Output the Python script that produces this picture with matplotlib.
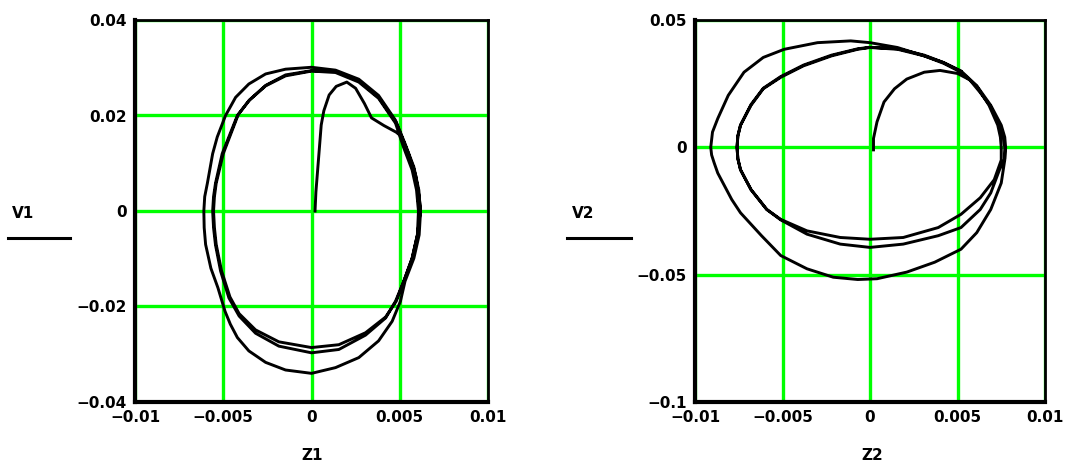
import matplotlib
matplotlib.use("Agg")
import matplotlib.pyplot as plt
from matplotlib.lines import Line2D

# ---- phase portrait 1: displacement Z1 vs velocity V1 ----
z1 = [0.0002, 0.00025, 0.0004, 0.00055, 0.0007, 0.0010, 0.0014, 0.0020, 0.0025, 0.0030,
      0.0034, 0.0041, 0.0048, 0.0051,
      0.0055, 0.0059, 0.0061, 0.00618, 0.0061, 0.0058, 0.0053, 0.00504, 0.00457, 0.0038,
      0.00268, 0.00136, 0.0, -0.00147, -0.0026, -0.00355, -0.0042, -0.0046, -0.0049,
      -0.0053, -0.0057, -0.0060, -0.00608, -0.0061, -0.00605, -0.0059, -0.0056, -0.00534,
      -0.00487, -0.0043, -0.00355, -0.0026, -0.00147, 0.0, 0.00136, 0.00268, 0.0038,
      0.00476, 0.0053, 0.0058, 0.00608, 0.00617,
      0.0060, 0.0057, 0.00523, 0.00476, 0.0042, 0.00306, 0.00155, 0.0, -0.00185, -0.00317,
      -0.0041, -0.00468, -0.00515, -0.00544, -0.00555, -0.0056, -0.00555, -0.00544,
      -0.00506, -0.0042, -0.00355, -0.0026, -0.00147, 0.0, 0.00136, 0.00268, 0.0038,
      0.00476, 0.0052, 0.0057, 0.00595, 0.00606,
      0.0060, 0.0057, 0.00523, 0.0048, 0.0042, 0.00306, 0.00155, 0.0, -0.00185, -0.00317,
      -0.0041, -0.00462, -0.0051, -0.0054, -0.0055, -0.00555, -0.0055, -0.0054, -0.0050,
      -0.00415, -0.0035, -0.0026, -0.00147, 0.0, 0.0014, 0.0027, 0.0038, 0.0048, 0.0053,
      0.0058, 0.0060, 0.0061]
v1 = [0.000, 0.004, 0.011, 0.018, 0.021, 0.0243, 0.0261, 0.0270, 0.0257, 0.0225,
      0.0195, 0.0179, 0.0165, 0.0156,
      0.0120, 0.0075, 0.0030, 0.0, -0.0050, -0.0099, -0.0147, -0.0189, -0.0231, -0.0272,
      -0.0307, -0.0328, -0.0340, -0.0333, -0.0317, -0.0293, -0.0265, -0.0237, -0.0210,
      -0.0161, -0.0120, -0.0070, -0.0035, 0.0, 0.0030, 0.0058, 0.0120, 0.0155,
      0.0200, 0.0238, 0.0266, 0.0287, 0.0297, 0.0301, 0.0295, 0.0276, 0.0242,
      0.0190, 0.0141, 0.0092, 0.0044, 0.0,
      -0.0050, -0.0099, -0.0147, -0.0189, -0.0224, -0.0260, -0.0290, -0.0297, -0.0283, -0.0256,
      -0.0220, -0.0182, -0.0126, -0.0071, -0.0035, 0.0, 0.0030, 0.0058,
      0.0120, 0.0200, 0.0231, 0.0262, 0.0283, 0.0293, 0.0290, 0.0270, 0.0236,
      0.0184, 0.0135, 0.0086, 0.0044, 0.0,
      -0.0050, -0.0099, -0.0147, -0.0189, -0.0222, -0.0255, -0.0280, -0.0286, -0.0274, -0.0249,
      -0.0215, -0.0180, -0.0125, -0.0070, -0.0035, 0.0, 0.0030, 0.0058, 0.0120,
      0.0202, 0.0233, 0.0263, 0.0285, 0.0294, 0.0292, 0.0272, 0.0238, 0.0185, 0.0138,
      0.0088, 0.0044, 0.0]

# ---- phase portrait 2: displacement Z2 vs velocity V2 ----
z2 = [0.0002, 0.0002, 0.0004, 0.0008, 0.0014, 0.0021, 0.0031, 0.0040, 0.0050, 0.0057,
      0.0063, 0.0069, 0.0074, 0.0076, 0.0077, 0.0077, 0.0076, 0.0075, 0.0069, 0.0061,
      0.0052, 0.0037, 0.0021, 0.0004, -0.0007, -0.0021, -0.0036, -0.0051, -0.0062, -0.0074,
      -0.0079, -0.0083, -0.0087, -0.0089, -0.00905, -0.0091, -0.0090, -0.0087, -0.0081,
      -0.0072, -0.0061, -0.0049, -0.0030, -0.0011,
      0.0, 0.00157, 0.0031, 0.0042, 0.0052, 0.0061, 0.0069, 0.0075, 0.0077, 0.00775,
      0.0077, 0.0074, 0.0069, 0.0063, 0.0052, 0.0039, 0.0019, 0.0, -0.0017, -0.0036, -0.0051,
      -0.0059, -0.0068, -0.0074, -0.00755, -0.0076, -0.00755, -0.0074, -0.0068, -0.0061,
      -0.0051, -0.0038, -0.0022, -0.0007, 0.0, 0.00157, 0.0031, 0.0042, 0.0052, 0.0061,
      0.0068, 0.0073, 0.00745, 0.0075,
      0.0075, 0.0071, 0.0063, 0.0052, 0.0039, 0.0019, 0.0, -0.0017, -0.0036, -0.0051,
      -0.0059, -0.0068, -0.0074, -0.00755, -0.0076, -0.00755, -0.0074, -0.0068, -0.0061,
      -0.0051, -0.0038, -0.0022, -0.0007, 0.0, 0.0016, 0.0031, 0.0042, 0.0052]
v2 = [-0.001, 0.0035, 0.0100, 0.0178, 0.0230, 0.0268, 0.0295, 0.0302, 0.0290, 0.0265,
      0.0215, 0.0160, 0.0087, 0.0045, 0.0, -0.0050, -0.0095, -0.0140, -0.0244, -0.0335,
      -0.0400, -0.0451, -0.0490, -0.0516, -0.0519, -0.0510, -0.0477, -0.0425, -0.0347, -0.0257,
      -0.0205, -0.0153, -0.0101, -0.0062, -0.0030, 0.0, 0.0060, 0.0113, 0.0204,
      0.0295, 0.0353, 0.0385, 0.0411, 0.0418,
      0.0411, 0.0392, 0.0359, 0.0333, 0.0300, 0.0242, 0.0165, 0.0087, 0.0040, 0.0,
      -0.0045, -0.0088, -0.0179, -0.0244, -0.0315, -0.0347, -0.0380, -0.0393, -0.0380, -0.0341,
      -0.0285, -0.0244, -0.0166, -0.0088, -0.0045, 0.0, 0.0045, 0.0087, 0.0165, 0.0230,
      0.0275, 0.0320, 0.0359, 0.0385, 0.0392, 0.0385, 0.0359, 0.0330, 0.0295, 0.0240,
      0.0165, 0.0087, 0.0040, 0.0,
      -0.0050, -0.0127, -0.0198, -0.0263, -0.0315, -0.0354, -0.0361, -0.0354, -0.0328, -0.0283,
      -0.0244, -0.0166, -0.0088, -0.0045, 0.0, 0.0045, 0.0087, 0.0168, 0.0232,
      0.0278, 0.0323, 0.0362, 0.0387, 0.0393, 0.0387, 0.0362, 0.0333, 0.0298]

x_ticks = [-0.01, -0.005, 0.0, 0.005, 0.01]
x_labels = ["\u22120.01", "\u22120.005", "0", "0.005", "0.01"]
y1_ticks = [-0.04, -0.02, 0.0, 0.02, 0.04]
y1_labels = ["\u22120.04", "\u22120.02", "0", "0.02", "0.04"]
y2_ticks = [-0.1, -0.05, 0.0, 0.05]
y2_labels = ["\u22120.1", "\u22120.05", "0", "0.05"]

W, H = 1072, 465
fig = plt.figure(figsize=(W / 100, H / 100), dpi=100)
fig.patch.set_facecolor("white")

GREEN = "#00ff00"
FONT = dict(family="DejaVu Sans", weight="bold", size=11)


def make_axes(rect_px, xs, ys, yt, yl):
    l, t, r, b = rect_px
    ax = fig.add_axes([l / W, 1 - b / H, (r - l) / W, (b - t) / H])
    ax.plot(xs, ys, color="black", lw=2.1, solid_joinstyle="round", zorder=3)
    ax.set_xlim(-0.01, 0.01)
    ax.set_ylim(yt[0], yt[-1])
    ax.set_xticks(x_ticks)
    ax.set_xticklabels(x_labels, fontdict=FONT)
    ax.set_yticks(yt)
    ax.set_yticklabels(yl, fontdict=FONT)
    ax.tick_params(length=0, pad=6)
    ax.grid(True, color=GREEN, lw=2.4, zorder=1)
    ax.set_axisbelow(True)
    for s in ("left", "bottom"):
        ax.spines[s].set_linewidth(3.0)
    for s in ("top", "right"):
        ax.spines[s].set_linewidth(2.0)
    for s in ax.spines.values():
        s.set_color("black")
        s.set_zorder(4)
    return ax


ax1 = make_axes((135, 20, 488, 402), z1, v1, y1_ticks, y1_labels)
ax2 = make_axes((695, 20, 1045, 402), z2, v2, y2_ticks, y2_labels)


def px_text(x, y, s, **kw):
    fig.text(x / W, 1 - y / H, s, **kw)


def px_line(x0, x1, y):
    fig.add_artist(Line2D([x0 / W, x1 / W], [1 - y / H, 1 - y / H],
                          color="black", lw=2.2, transform=fig.transFigure))


# y-axis names with the underline bar, x-axis names below each frame
px_text(12, 213, "V1", ha="left", va="center", **FONT)
px_line(8, 70, 238)
px_text(572, 213, "V2", ha="left", va="center", **FONT)
px_line(567, 631, 238)
px_text(312, 455, "Z1", ha="center", va="center", **FONT)
px_text(872, 455, "Z2", ha="center", va="center", **FONT)

fig.savefig("out.png", dpi=100, facecolor="white")
